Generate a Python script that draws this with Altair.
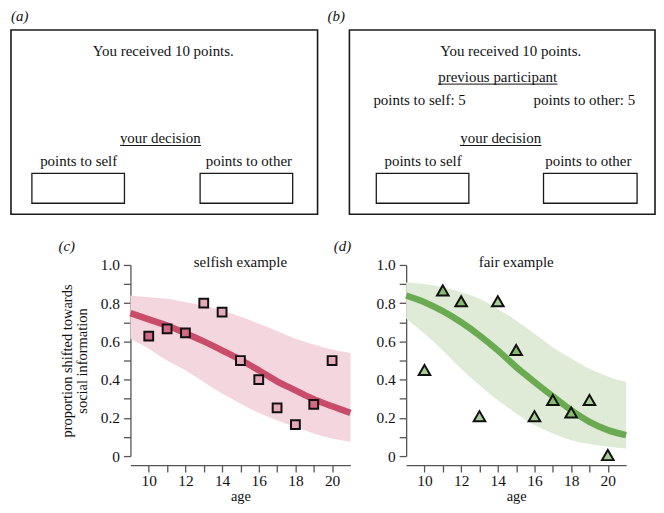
import altair as alt
import pandas as pd

FONT = "Liberation Serif"

# ---------------- data ----------------
ages = list(range(9, 22))
selfish_fit = [0.748, 0.715, 0.683, 0.643, 0.600, 0.553, 0.504, 0.449, 0.391, 0.344, 0.297, 0.261, 0.226]
selfish_lo = [0.614, 0.562, 0.500, 0.449, 0.388, 0.327, 0.275, 0.226, 0.188, 0.153, 0.118, 0.092, 0.075]
selfish_hi = [0.840, 0.831, 0.823, 0.805, 0.788, 0.762, 0.730, 0.692, 0.654, 0.614, 0.584, 0.557, 0.539]
fair_fit = [0.840, 0.805, 0.758, 0.700, 0.631, 0.553, 0.466, 0.388, 0.313, 0.240, 0.179, 0.136, 0.110]
fair_lo = [0.718, 0.640, 0.553, 0.457, 0.370, 0.292, 0.223, 0.162, 0.118, 0.083, 0.063, 0.049, 0.040]
fair_hi = [0.910, 0.900, 0.883, 0.857, 0.823, 0.770, 0.710, 0.640, 0.570, 0.510, 0.457, 0.417, 0.388]

obs_ages = list(range(10, 21))
selfish_obs = [0.628, 0.666, 0.645, 0.800, 0.753, 0.500, 0.400, 0.252, 0.165, 0.271, 0.500]
selfish_shade = ["dark", "dark", "dark", "light", "light", "light", "light", "light", "light", "dark", "light"]
fair_obs = [0.450, 0.867, 0.810, 0.209, 0.810, 0.555, 0.209, 0.293, 0.228, 0.293, 0.005]
fair_shade = ["light", "dark", "dark", "light", "light", "dark", "light", "dark", "dark", "light", "light"]

# diagram texts (panels a and b)
a_texts = ["You received 10 points.", "your decision", "points to self", "points to other"]
b_texts = ["You received 10 points.", "previous participant", "points to self: 5",
           "points to other: 5", "your decision", "points to self", "points to other"]

# diagram layout (local units of each schematic panel)
a_tx = [153, 150, 68, 239]
a_ty = [46.3, 133.5, 156.3, 156.3]
a_boxes = [[0, 308, 20, 205, 1.6], [21, 114, 164, 194, 1.3], [190, 283, 164, 194, 1.3]]
a_lines = [[110, 191, 136]]
b_tx = [184, 171, 92.5, 258, 174, 96, 262]
b_ty = [46.3, 72, 95.3, 95.3, 133.5, 156.3, 156.3]
b_boxes = [[22, 329, 20, 205, 1.6], [49, 142, 164, 194, 1.3], [217, 311, 164, 194, 1.3]]
b_lines = [[111, 231, 74.3], [133, 215, 136]]

TOP_W, TOP_H = 647, 205
B_OFF = 318  # where panel b starts inside the top row


def shift(rows, idx, d):
    return [[v + d if i in idx else v for i, v in enumerate(r)] for r in rows]


xs = alt.Scale(domain=[0, TOP_W], nice=False, zero=False)
ys = alt.Scale(domain=[0, TOP_H], nice=False, zero=False, reverse=True)

boxes = a_boxes + shift(b_boxes, (0, 1), B_OFF)
lines = a_lines + shift(b_lines, (0, 1), B_OFF)
texts = a_texts + b_texts
tx = a_tx + [v + B_OFF for v in b_tx]
ty = a_ty + b_ty

bdf = pd.DataFrame(boxes, columns=["x", "x2", "y", "y2", "w"])
rects = alt.Chart(bdf).mark_rect(fill="white", stroke="#1a1a1a").encode(
    x=alt.X("x:Q", scale=xs, axis=None), x2="x2:Q",
    y=alt.Y("y:Q", scale=ys, axis=None), y2="y2:Q",
    strokeWidth=alt.StrokeWidth("w:Q", scale=None, legend=None),
)
tdf = pd.DataFrame({"t": texts, "x": tx, "y": ty})
txt = alt.Chart(tdf).mark_text(font=FONT, fontSize=15, color="#111111",
                               align="center", baseline="alphabetic").encode(
    x=alt.X("x:Q", scale=xs, axis=None), y=alt.Y("y:Q", scale=ys, axis=None), text="t:N")
ldf = pd.DataFrame(lines, columns=["x", "x2", "y"])
und = alt.Chart(ldf).mark_rule(color="#111111", strokeWidth=1).encode(
    x=alt.X("x:Q", scale=xs, axis=None), x2="x2:Q", y=alt.Y("y:Q", scale=ys, axis=None))
letters = pd.DataFrame({"t": ["(a)", "(b)"], "x": [0, B_OFF], "y": [11, 11]})
let = alt.Chart(letters).mark_text(
    font=FONT, fontSize=15, fontStyle="italic", align="left", baseline="alphabetic",
    color="#111111").encode(text="t:N", x=alt.X("x:Q", scale=xs, axis=None),
                            y=alt.Y("y:Q", scale=ys, axis=None))
top = alt.layer(rects, txt, und, let).properties(width=TOP_W, height=TOP_H)


PW, PH = 221, 192
xscale = alt.Scale(domain=[9, 21], nice=False, zero=False)
yscale = alt.Scale(domain=[0, 1], nice=False, zero=False)
xaxis = alt.Axis(values=list(range(10, 21)), labelExpr="datum.value % 2 == 0 ? datum.label : ''",
                 tickSize=7, offset=9, title="age", grid=False, labelPadding=2, titlePadding=0)
yticks = [round(i * 0.1, 1) for i in range(11)]


def yaxis(title):
    return alt.Axis(values=yticks, grid=False, tickSize=7, labelPadding=4, titlePadding=11,
                    labelExpr="datum.value == 0 ? '0' : (round(datum.value*10) % 2 == 0 ? format(datum.value, '.1f') : '')",
                    title=title, titleLineHeight=15)


def data_panel(fit, lo, hi, obs, shade, shape, size, band_col, line_col, dark, light,
               title, letter, ytitle):
    cdf = pd.DataFrame({"age": ages, "v": fit, "lo": lo, "hi": hi})
    odf = pd.DataFrame({"age": obs_ages, "v": obs, "shade": shade})
    ya = yaxis(ytitle)
    band = alt.Chart(cdf).mark_area(color=band_col, opacity=1, interpolate="monotone").encode(
        x=alt.X("age:Q", scale=xscale, axis=xaxis),
        y=alt.Y("lo:Q", scale=yscale, axis=ya), y2="hi:Q")
    line = alt.Chart(cdf).mark_line(color=line_col, strokeWidth=6.5, interpolate="monotone").encode(
        x=alt.X("age:Q", scale=xscale, axis=xaxis), y=alt.Y("v:Q", scale=yscale, axis=ya))
    pts = alt.Chart(odf).mark_point(shape=shape, size=size, filled=True, stroke="#111111",
                                    strokeWidth=2, opacity=1).encode(
        x=alt.X("age:Q", scale=xscale, axis=xaxis), y=alt.Y("v:Q", scale=yscale, axis=ya),
        fill=alt.Fill("shade:N", scale=alt.Scale(domain=["dark", "light"], range=[dark, light]),
                      legend=None))
    ttl = alt.Chart(pd.DataFrame({"t": [title]})).mark_text(
        font=FONT, fontSize=15, color="#111111", align="center", baseline="alphabetic").encode(
        text="t:N", x=alt.value(PW / 2), y=alt.value(2))
    let = alt.Chart(pd.DataFrame({"t": [letter]})).mark_text(
        font=FONT, fontSize=15, fontStyle="italic", color="#111111", align="center",
        baseline="alphabetic").encode(text="t:N", x=alt.value(-64), y=alt.value(-14))
    return alt.layer(band, line, pts, ttl, let).properties(width=PW, height=PH)


panel_c = data_panel(selfish_fit, selfish_lo, selfish_hi, selfish_obs, selfish_shade, "square", 78,
                     "#f3d6de", "#c94d6b", "#d36a84", "#e7a8b7", "selfish example", "(c)",
                     ["proportion shifted towards", "social information"])
panel_d = data_panel(fair_fit, fair_lo, fair_hi, fair_obs, fair_shade, "triangle-up", 135,
                     "#dfebd7", "#6aab52", "#86bb70", "#a6cf94", "fair example", "(d)", None)

spacer = alt.Chart(pd.DataFrame({"v": [0]})).mark_point(opacity=0).encode(
    x=alt.value(0), y=alt.value(0)).properties(width=64, height=PH)

bottom = alt.hconcat(spacer, panel_c, panel_d, spacing=56, bounds="flush").resolve_scale(
    fill="independent")

chart = alt.vconcat(top, bottom, spacing=51, bounds="flush").properties(
    padding=0
).configure_view(strokeWidth=0).configure_axis(
    labelFont=FONT, titleFont=FONT, labelFontSize=15.5, titleFontSize=14.5,
    labelColor="#111111", titleColor="#111111", titleFontWeight="normal",
    domainColor="#555555", tickColor="#555555", domainWidth=1.3, tickWidth=1.3,
)

chart.save("out.html", embed_options={"renderer": "svg", "actions": False})
